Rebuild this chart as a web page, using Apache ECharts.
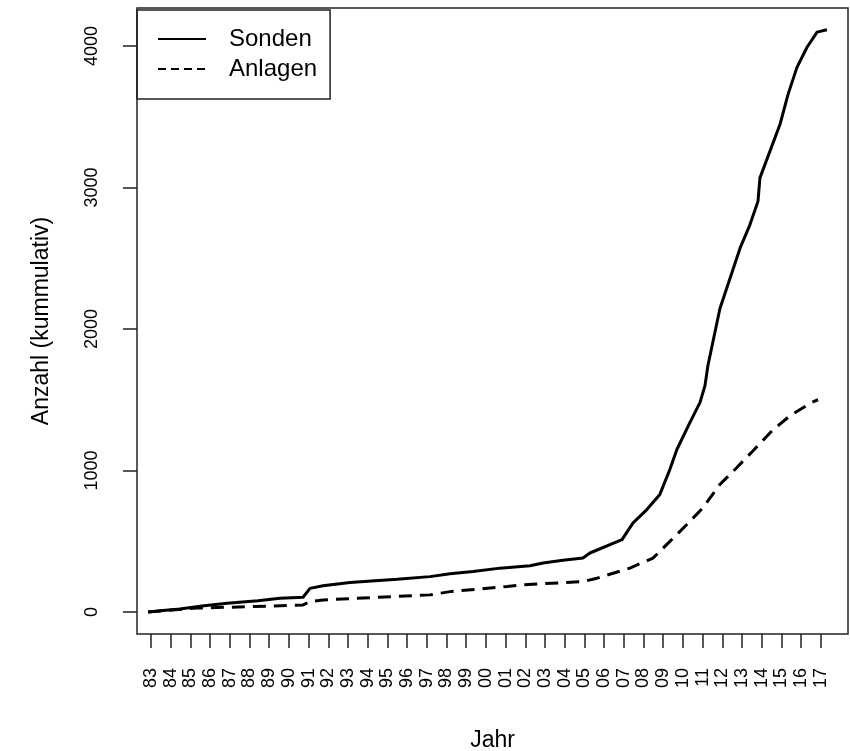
<!DOCTYPE html>
<html>
<head>
<meta http-equiv="Content-Type" content="text/html; charset=utf-8" />
<title>Sonden und Anlagen kumulativ</title>
<script type="text/javascript" src="https://cdn.jsdelivr.net/npm/echarts@6/dist/echarts.min.js"></script>
<style>
	html, body { margin: 0; padding: 0; background: #fff; }
	#chart { width: 850px; height: 751px; }
</style>
</head>
<body>
<div id="chart"></div>
<script type="text/javascript">
	// Jahre als Dezimalzahl, Werte kumulativ
	var sondenJahr = [1982.85, 1983.46, 1984.47, 1985.59, 1986.86, 1988.43, 1989.55, 1990.72, 1991.07, 1991.73,
		1993.10, 1995.49, 1997.16, 1998.18, 1999.35, 2000.72, 2002.24, 2002.90, 2003.91, 2004.93,
		2005.28, 2006.91, 2007.47, 2008.17, 2008.83, 2009.34, 2009.70, 2010.36, 2010.87, 2011.12,
		2011.27, 2011.88, 2012.90, 2013.40, 2013.81, 2013.91, 2014.42, 2014.93, 2015.34, 2015.79,
		2016.30, 2016.81, 2017.31];
	var sondenWert = [0, 9, 21, 43, 62, 80, 97, 104, 167, 185,
		208, 232, 250, 270, 286, 310, 327, 346, 365, 382,
		417, 511, 630, 724, 831, 1008, 1150, 1340, 1482, 1600,
		1742, 2145, 2571, 2736, 2902, 3068, 3257, 3447, 3660, 3849,
		3991, 4098, 4115];

	var anlagenJahr = [1982.85, 1985.34, 1988.18, 1990.72, 1991.07, 1991.73, 1994.47, 1997.16, 1998.18, 2001.07,
		2001.88, 2004.93, 2005.64, 2007.31, 2008.48, 2009.34, 2010.20, 2011.02, 2011.88, 2012.74,
		2013.55, 2014.52, 2015.43, 2016.55, 2016.86];
	var anlagenWert = [0, 28, 38, 50, 73, 85, 104, 121, 144, 180,
		192, 215, 239, 310, 381, 499, 618, 737, 902, 1021,
		1138, 1280, 1387, 1482, 1500];

	var jahrTicks = [];
	for (var j = 1983; j <= 2017; j++) { jahrTicks.push(j); }
	var wertTicks = [0, 1000, 2000, 3000, 4000];

	function paare(xs, ys) {
		var out = [];
		for (var i = 0; i < xs.length; i++) { out.push([xs[i], ys[i]]); }
		return out;
	}

	var schrift = 'Liberation Sans, Arial, Helvetica, sans-serif';
	var chart = echarts.init(document.getElementById('chart'));
	var option = {
		animation: false,
		grid: {
			left: 137, right: 2, top: 8, bottom: 117,
			show: true, borderColor: '#222', borderWidth: 1.5,
			outerBoundsMode: 'none',
			containLabel: false
		},
		legend: {
			left: 137, top: 10,
			orient: 'vertical',
			borderColor: '#222', borderWidth: 1.5,
			padding: [17, 13, 18, 20],
			itemWidth: 48, itemHeight: 14, itemGap: 6,
			lineStyle: { width: 2 },
			itemStyle: { opacity: 0 },
			textStyle: { fontFamily: schrift, fontSize: 24, color: '#000', padding: [0, 0, 0, 18] },
			data: [
				{ name: 'Sonden' },
				{ name: 'Anlagen', lineStyle: { type: [8, 5] } }
			]
		},
		xAxis: {
			type: 'value',
			min: 1982.29, max: 2018.38,
			name: 'Jahr', nameLocation: 'middle', nameGap: 95,
			nameTextStyle: { fontFamily: schrift, fontSize: 23, color: '#000' },
			splitLine: { show: false },
			axisLine: { show: false, onZero: false },
			axisTick: { show: true, length: 14, inside: false, customValues: jahrTicks,
				lineStyle: { color: '#222', width: 1.5 } },
			axisLabel: {
				customValues: jahrTicks, rotate: 90, margin: 34,
				fontFamily: schrift, fontSize: 18, color: '#000',
				formatter: function (v) { return String(v).slice(2); }
			}
		},
		yAxis: {
			type: 'value',
			min: -155.5, max: 4268.6,
			name: 'Anzahl (kummulativ)', nameLocation: 'middle', nameGap: 84,
			nameTextStyle: { fontFamily: schrift, fontSize: 23, color: '#000' },
			splitLine: { show: false },
			axisLine: { show: false, onZero: false },
			axisTick: { show: true, length: 14, inside: false, customValues: wertTicks,
				lineStyle: { color: '#222', width: 1.5 } },
			axisLabel: {
				customValues: wertTicks, rotate: 90, margin: 36,
				fontFamily: schrift, fontSize: 18, color: '#000',
				formatter: function (v) { return String(v); }
			}
		},
		series: [
			{
				name: 'Sonden', type: 'line', symbol: 'none',
				data: paare(sondenJahr, sondenWert),
				lineStyle: { color: '#000', width: 3 },
				itemStyle: { color: '#000' }
			},
			{
				name: 'Anlagen', type: 'line', symbol: 'none',
				data: paare(anlagenJahr, anlagenWert),
				lineStyle: { color: '#000', width: 3, type: [13, 8] },
				itemStyle: { color: '#000' }
			}
		]
	};
	chart.setOption(option);
</script>
</body>
</html>
